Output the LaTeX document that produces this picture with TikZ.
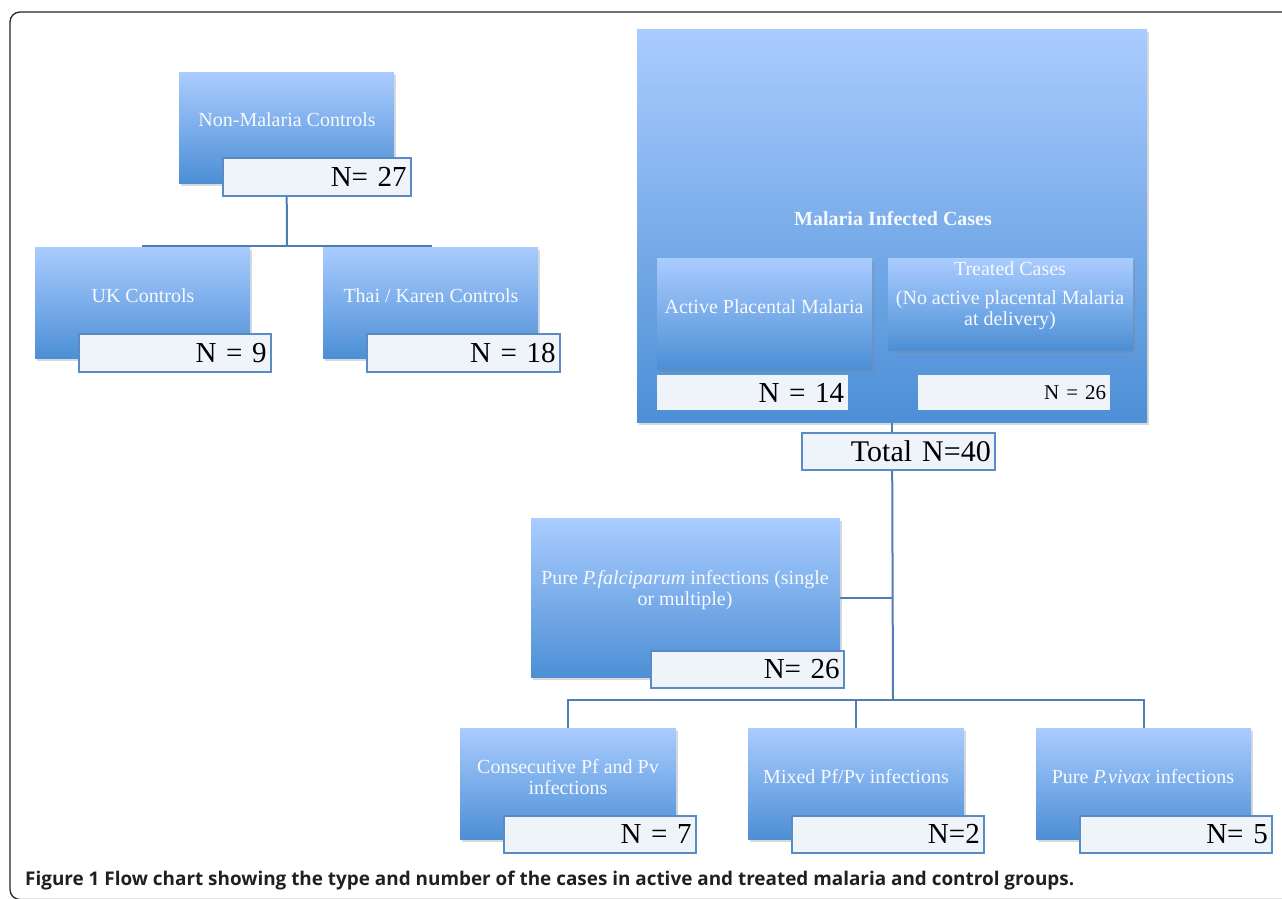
\documentclass[tikz,border=0pt]{standalone}
\usepackage{fontspec}
\setmainfont{Liberation Serif}
\newfontfamily\capfont{Open Sans}
\usetikzlibrary{shadows,backgrounds}
\definecolor{boxtop}{RGB}{170,204,255}
\definecolor{boxbot}{RGB}{76,143,213}
\definecolor{nfill}{RGB}{239,244,250}
\definecolor{nline}{RGB}{91,139,197}
\definecolor{conncol}{RGB}{79,125,181}
\definecolor{wtxt}{RGB}{246,249,255}
\definecolor{captxt}{RGB}{35,31,32}
\begin{document}
\begin{tikzpicture}[x=1pt,y=-1pt,
  bluebox/.style={anchor=north west, inner sep=0pt, top color=boxtop, bottom color=boxbot, draw=none,
    drop shadow={shadow xshift=2pt, shadow yshift=-3pt, opacity=0.3}},
  wtext/.style={text=wtxt, align=center, inner sep=0pt, font=\fontsize{20}{21}\selectfont},
  nbox/.style={anchor=north west, draw=nline, line width=1.5pt, fill=nfill, inner xsep=4pt, inner ysep=0pt,
    align=right, font=\fontsize{29}{30}\selectfont},
  nflat/.style={anchor=north west, draw=none, fill=nfill, inner xsep=4pt, inner ysep=0pt,
    align=right, font=\fontsize{29}{30}\selectfont},
  conn/.style={draw=conncol, line width=2pt},
  frame/.style={draw=black!85, line width=1.3pt, rounded corners=10pt}]
\useasboundingbox (0,0) rectangle (1282,898);
\begin{scope}
  \clip (0,0) rectangle (1282,898);
  \draw[frame] (1300,899.5) -- (10,899.5) -- (10,12) -- (1300,12);
\end{scope}

% controls
\node[bluebox, minimum width=215pt, minimum height=111pt] (nmc) at (179,72) {};
\node[wtext] (nmct) at (287,120) {Non-Malaria Controls};
\node[nbox, minimum height=38pt, text width=180pt] (n27) at (222,157) {N= 27};

\node[bluebox, minimum width=215pt, minimum height=111pt] (uk) at (35,247) {};
\node[wtext] (ukt) at (143,296) {UK Controls};
\node[nbox, minimum height=38pt, text width=184pt] (n9) at (78,333) {N = 9};

\node[bluebox, minimum width=215pt, minimum height=111pt] (thai) at (323,247) {};
\node[wtext] (thait) at (431,296) {Thai / Karen Controls};
\node[nbox, minimum height=38pt, text width=185pt] (n18) at (366,333) {N = 18};

% malaria
\node[bluebox, minimum width=510pt, minimum height=393pt] (mal) at (637,29) {};
\node[wtext, font=\bfseries\fontsize{20}{21}\selectfont] (malt) at (893,219) {Malaria Infected Cases};
\node[bluebox, minimum width=215pt, minimum height=111pt] (act) at (657,258) {};
\node[wtext] (actt) at (764,307) {Active Placental Malaria};
\node[bluebox, minimum width=245pt, minimum height=92pt] (trt) at (888,258) {};
\node[wtext] (trtt) at (1010,296) {Treated Cases\\[8pt](No active placental Malaria\\at delivery)};
\node[nflat, minimum height=35pt, text width=183pt] (n14) at (657,375) {N = 14};
\node[nflat, minimum height=35pt, text width=184pt, font=\fontsize{21}{22}\selectfont] (n26a) at (918,375) {N = 26};
\node[nbox, minimum height=37pt, text width=185pt, font=\fontsize{30}{31}\selectfont] (tot) at (801,432) {Total N=40};

% species
\node[bluebox, minimum width=309pt, minimum height=159pt] (pf) at (531,518) {};
\node[wtext] (pft) at (685,590) {Pure \textit{P.falciparum} infections (single\\or multiple)};
\node[nbox, minimum height=37pt, text width=185pt] (n26) at (650,650) {N= 26};

\node[bluebox, minimum width=216pt, minimum height=111pt] (cons) at (460,728) {};
\node[wtext] (const) at (568,777) {Consecutive Pf and Pv\\infections};
\node[nbox, minimum height=37pt, text width=184pt] (n7) at (503,815) {N = 7};

\node[bluebox, minimum width=216pt, minimum height=111pt] (mix) at (748,728) {};
\node[wtext] (mixt) at (856,777) {Mixed Pf/Pv infections};
\node[nbox, minimum height=37pt, text width=184pt] (n2) at (791,815) {N=2};

\node[bluebox, minimum width=215pt, minimum height=111pt] (viv) at (1036,728) {};
\node[wtext] (vivt) at (1143,777) {Pure \textit{P.vivax} infections};
\node[nbox, minimum height=37pt, text width=184pt] (n5) at (1079,815) {N= 5};

% caption
\node[anchor=base west, inner sep=0pt, text=captxt, font=\capfont\bfseries\fontsize{18.9}{22}\selectfont] (cap) at (25,885)
  {Figure 1 Flow chart showing the type and number of the cases in active and treated malaria and control groups.};

\begin{pgfonlayer}{background}
  \coordinate (j1) at (287,246);
  \draw[conn] (nmc.south |- n27.south) -- (j1);
  \draw[conn] (uk.north) |- (j1) -| (thai.north);
  \coordinate (j2) at (893,700);
  \draw[conn] (mal.south) -- (mal.south |- tot.north);
  \draw[conn] (mal.south |- tot.south) -- (j2);
  \draw[conn] (pf.east) -- (pf.east -| j2);
  \draw[conn] (cons.north) |- (j2) -| (viv.north);
  \draw[conn] (mix.north) -- (mix.north |- j2);
\end{pgfonlayer}
\end{tikzpicture}
\end{document}
